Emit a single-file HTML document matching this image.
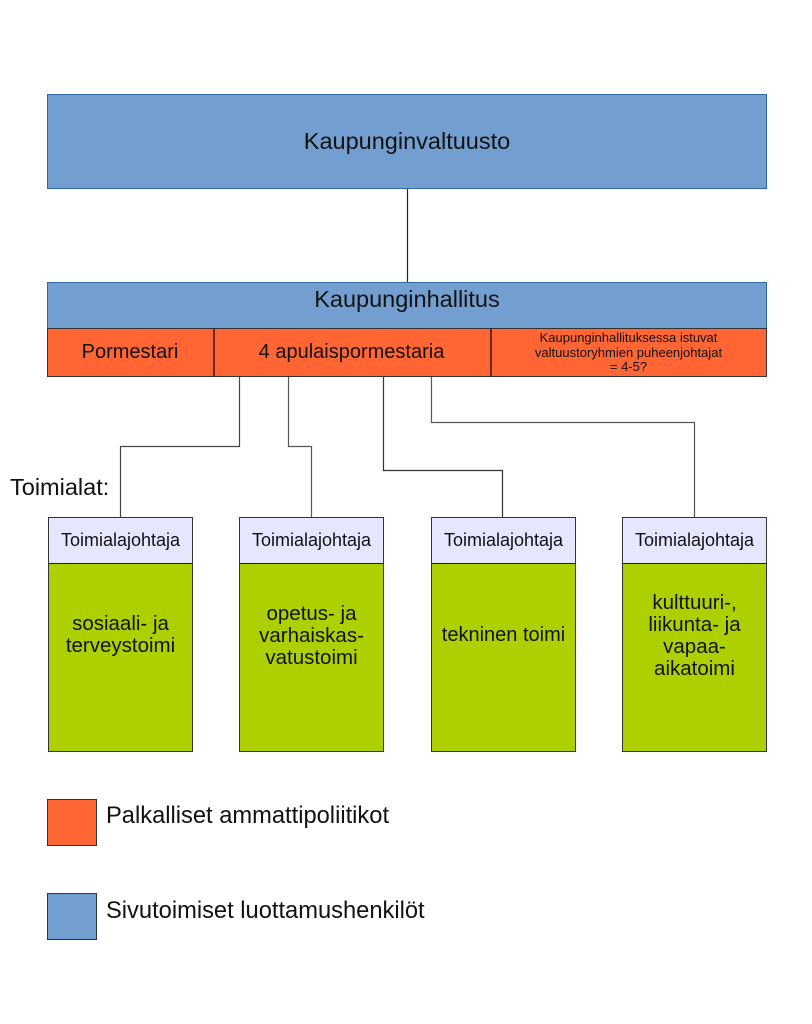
<!DOCTYPE html>
<html>
<head>
<meta charset="utf-8">
<style>
  html,body{margin:0;padding:0;background:#fff;}
  body{width:812px;height:1024px;position:relative;overflow:hidden;font-family:"Liberation Sans",Arial,sans-serif;color:#111;}
  .abs{position:absolute;box-sizing:border-box;}
  .c{display:flex;align-items:center;justify-content:center;text-align:center;}
  .t{position:absolute;left:0;right:0;text-align:center;white-space:nowrap;}
  .hdr{position:absolute;left:0;right:0;top:0;height:46px;box-sizing:border-box;background:#e6e6ff;border-bottom:1.5px solid #222;font-size:18px;display:flex;align-items:center;justify-content:center;}
</style>
</head>
<body>
<svg class="abs" style="left:0;top:0" width="812" height="1024">
  <g fill="none" stroke-width="1.2">
    <line x1="407.5" y1="188" x2="407.5" y2="282" stroke="#222"/>
    <polyline points="239.5,376 239.5,446.5 120.5,446.5 120.5,517" stroke="#444"/>
    <polyline points="288.5,376 288.5,446.5 311.5,446.5 311.5,517" stroke="#555"/>
    <polyline points="383.5,376 383.5,470.5 502.5,470.5 502.5,517" stroke="#333"/>
    <polyline points="431.5,376 431.5,422.5 694.5,422.5 694.5,517" stroke="#555"/>
  </g>
</svg>

<!-- Kaupunginvaltuusto -->
<div class="abs c" style="left:47px;top:94px;width:720px;height:95px;background:#729fcf;border:1.5px solid #3465a4;font-size:23.5px;">Kaupunginvaltuusto</div>

<!-- Kaupunginhallitus -->
<div class="abs" style="left:47px;top:282px;width:720px;height:47px;background:#729fcf;border:1.5px solid #3465a4;border-bottom:none;">
  <div class="t" style="top:3px;font-size:23.5px;line-height:26px;">Kaupunginhallitus</div>
</div>
<div class="abs" style="left:47px;top:328px;width:720px;height:49px;background:#ff6633;border:1.5px solid #333;"></div>
<div class="abs" style="left:213px;top:329px;width:1.5px;height:47px;background:#6a2a12;"></div>
<div class="abs" style="left:490px;top:329px;width:1.5px;height:47px;background:#6a2a12;"></div>
<div class="abs c" style="left:47px;top:329px;width:166px;height:47px;font-size:20px;">Pormestari</div>
<div class="abs c" style="left:213px;top:329px;width:277px;height:47px;font-size:20px;">4 apulaispormestaria</div>
<div class="abs" style="left:490px;top:331px;width:277px;height:45px;font-size:13px;line-height:14.5px;text-align:center;">
  <div>Kaupunginhallituksessa istuvat</div>
  <div>valtuustoryhmien puheenjohtajat</div>
  <div>= 4-5?</div>
</div>

<!-- Toimialat -->
<div class="abs" style="left:10px;top:473px;font-size:23.5px;line-height:28px;white-space:nowrap;">Toimialat:</div>

<!-- Box 1 -->
<div class="abs" style="left:48px;top:517px;width:145px;height:235px;background:#afd000;border:1.5px solid #333;">
  <div class="hdr">Toimialajohtaja</div>
  <div class="t" style="top:95px;font-size:20.5px;line-height:22px;">sosiaali- ja<br>terveystoimi</div>
</div>

<!-- Box 2 -->
<div class="abs" style="left:239px;top:517px;width:145px;height:235px;background:#afd000;border:1.5px solid #333;">
  <div class="hdr">Toimialajohtaja</div>
  <div class="t" style="top:85px;font-size:20.5px;line-height:22px;">opetus- ja<br>varhaiskas-<br>vatustoimi</div>
</div>

<!-- Box 3 -->
<div class="abs" style="left:431px;top:517px;width:145px;height:235px;background:#afd000;border:1.5px solid #333;">
  <div class="hdr">Toimialajohtaja</div>
  <div class="t" style="top:106px;font-size:20px;line-height:22px;">tekninen toimi</div>
</div>

<!-- Box 4 -->
<div class="abs" style="left:622px;top:517px;width:145px;height:235px;background:#afd000;border:1.5px solid #333;">
  <div class="hdr">Toimialajohtaja</div>
  <div class="t" style="top:74px;font-size:20.5px;line-height:22px;">kulttuuri-,<br>liikunta- ja<br>vapaa-<br>aikatoimi</div>
</div>

<!-- Legend -->
<div class="abs" style="left:47px;top:799px;width:50px;height:47px;background:#ff6633;border:1.5px solid #333;"></div>
<div class="abs" style="left:106px;top:802px;font-size:23.7px;line-height:28px;white-space:nowrap;">Palkalliset ammattipoliitikot</div>
<div class="abs" style="left:47px;top:893px;width:50px;height:47px;background:#729fcf;border:1.5px solid #333;"></div>
<div class="abs" style="left:106px;top:897px;font-size:23.7px;line-height:28px;white-space:nowrap;">Sivutoimiset luottamushenkilöt</div>
</body>
</html>
